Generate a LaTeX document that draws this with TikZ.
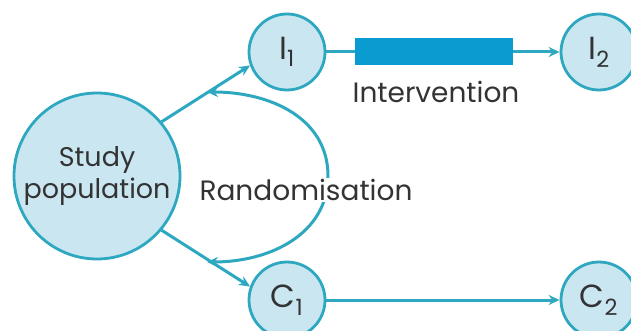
\documentclass[tikz,border=0pt]{standalone}
\usepackage{fontspec}
\setmainfont{Poppins}
\usetikzlibrary{arrows.meta}
\definecolor{edge}{HTML}{2EA8C0}
\definecolor{cfill}{HTML}{C9E6F1}
\definecolor{bar}{HTML}{0A9BD0}
\definecolor{txt}{HTML}{333333}
\tikzset{
  circ/.style={circle, draw=edge, line width=2.8pt, fill=cfill, inner sep=0pt, text=txt, font=\fontsize{32}{34}\selectfont},
  conn/.style={draw=edge, line width=3pt, -{Stealth[length=11pt,width=10pt]}},
  lbl/.style={text=txt, font=\fontsize{28}{30}\selectfont, inner sep=1pt}
}
\begin{document}
\begin{tikzpicture}[x=1pt,y=-1pt]
\useasboundingbox (0,0) rectangle (631,331);
\node[circ, minimum size=166pt, align=center, font=\fontsize{27}{32}\selectfont] (sp) at (97,176) {Study\\population};
\node[circ, minimum size=76pt] (i1) at (287,52) {I\textsubscript{1}};
\node[circ, minimum size=76pt] (i2) at (599,52) {I\textsubscript{2}};
\node[circ, minimum size=76pt] (c1) at (287,300) {C\textsubscript{1}};
\node[circ, minimum size=76pt] (c2) at (599,300) {C\textsubscript{2}};
\node[fill=bar, minimum width=158pt, minimum height=27pt, inner sep=0pt] (bar) at (434,52) {};
\node[lbl] (int) at (436,92) {Intervention};
\coordinate (rt) at (207,92);
\coordinate (rb) at (207,262);
\draw[conn] (sp.40) -- (i1.200);
\draw[conn] (sp.-40) -- (c1.160);
\draw[draw=edge, line width=3pt] (i1) -- (bar);
\draw[conn] (bar) -- (i2);
\draw[conn] (c1) -- (c2);
\draw[conn] (328,176) .. controls (328,118) and (270,92) .. (rt);
\draw[conn] (328,176) .. controls (328,234) and (270,262) .. (rb);
\node[lbl, fill=white, inner xsep=3pt] (rand) at (306,190) {Randomisation};
\end{tikzpicture}
\end{document}
